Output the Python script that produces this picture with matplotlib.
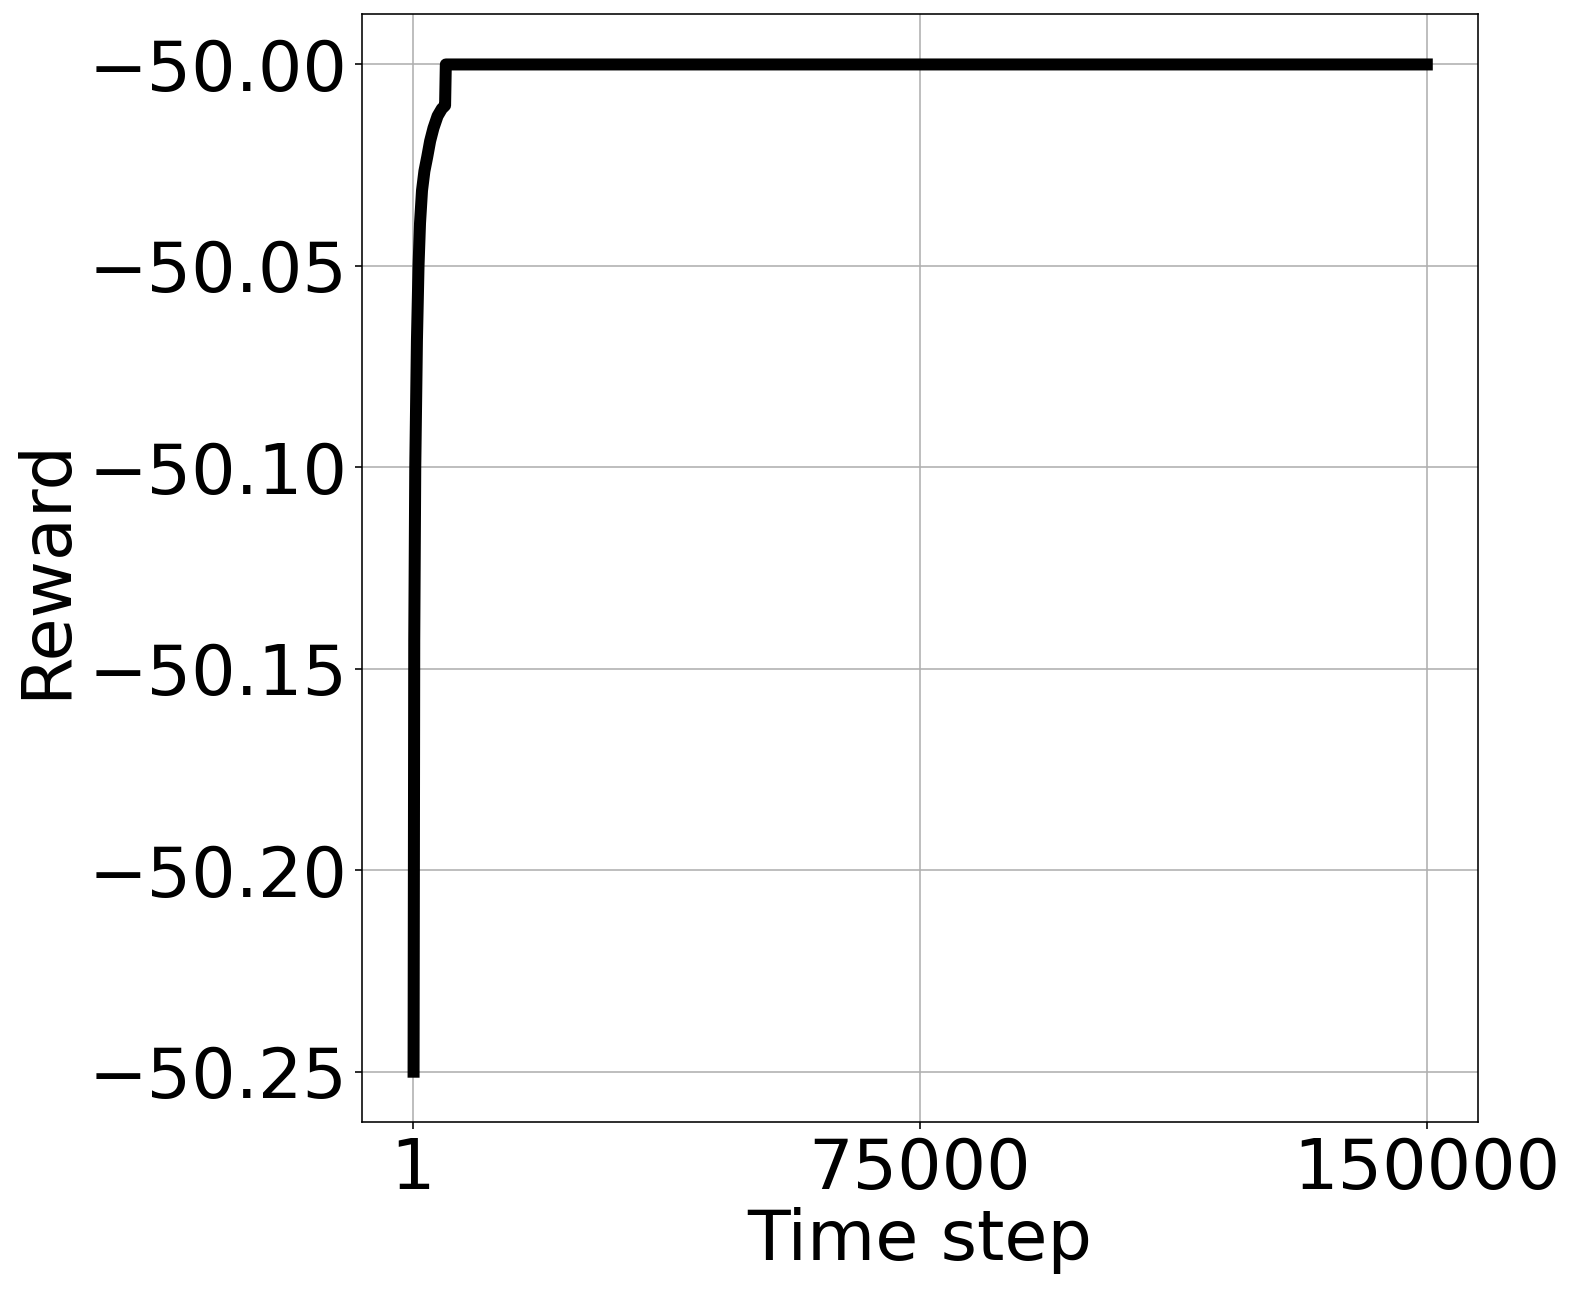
"""Reward per time step for the trained agent."""

from __future__ import annotations

import matplotlib

matplotlib.use("Agg")
import matplotlib.pyplot as plt

# curve
TIME_STEPS = [
    150, 250, 400, 648, 883, 1104, 1398, 1750, 2164, 2600, 3091, 3700, 4328,
    4810, 4920, 150000,
]
REWARDS = [
    -50.25, -50.143, -50.10, -50.0685, -50.05, -50.0394, -50.0313, -50.0265,
    -50.023, -50.019, -50.0158, -50.0128, -50.0110, -50.0102, -50.0, -50.0,
]
X_TICKS = [1, 75000, 150000]
Y_TICKS = [-50.25, -50.20, -50.15, -50.10, -50.05, -50.00]


def main() -> None:
    plt.rcParams["font.family"] = "DejaVu Sans"
    fig = plt.figure(figsize=(1576 / 144, 1293 / 144), dpi=144)
    ax = fig.add_axes([0.2296, 0.1322, 0.9375 - 0.2296, 0.9891 - 0.1322])
    ax.plot(TIME_STEPS, REWARDS, color="black", linewidth=6)
    ax.set_xlim(1 - 7500, 150000 + 7500)
    ax.set_ylim(-50.2625, -49.9875)
    ax.set_xticks(X_TICKS)
    ax.set_xticklabels([str(t) for t in X_TICKS])
    ax.set_yticks(Y_TICKS)
    ax.set_yticklabels([f"{t:.2f}".replace("-", "\u2212") for t in Y_TICKS])
    ax.tick_params(labelsize=35)
    ax.set_xlabel("Time step", fontsize=35, labelpad=2)
    ax.set_ylabel("Reward", fontsize=35, labelpad=5)
    ax.grid(True)
    fig.savefig("out.png", dpi=144)
    plt.close(fig)


if __name__ == "__main__":
    main()
